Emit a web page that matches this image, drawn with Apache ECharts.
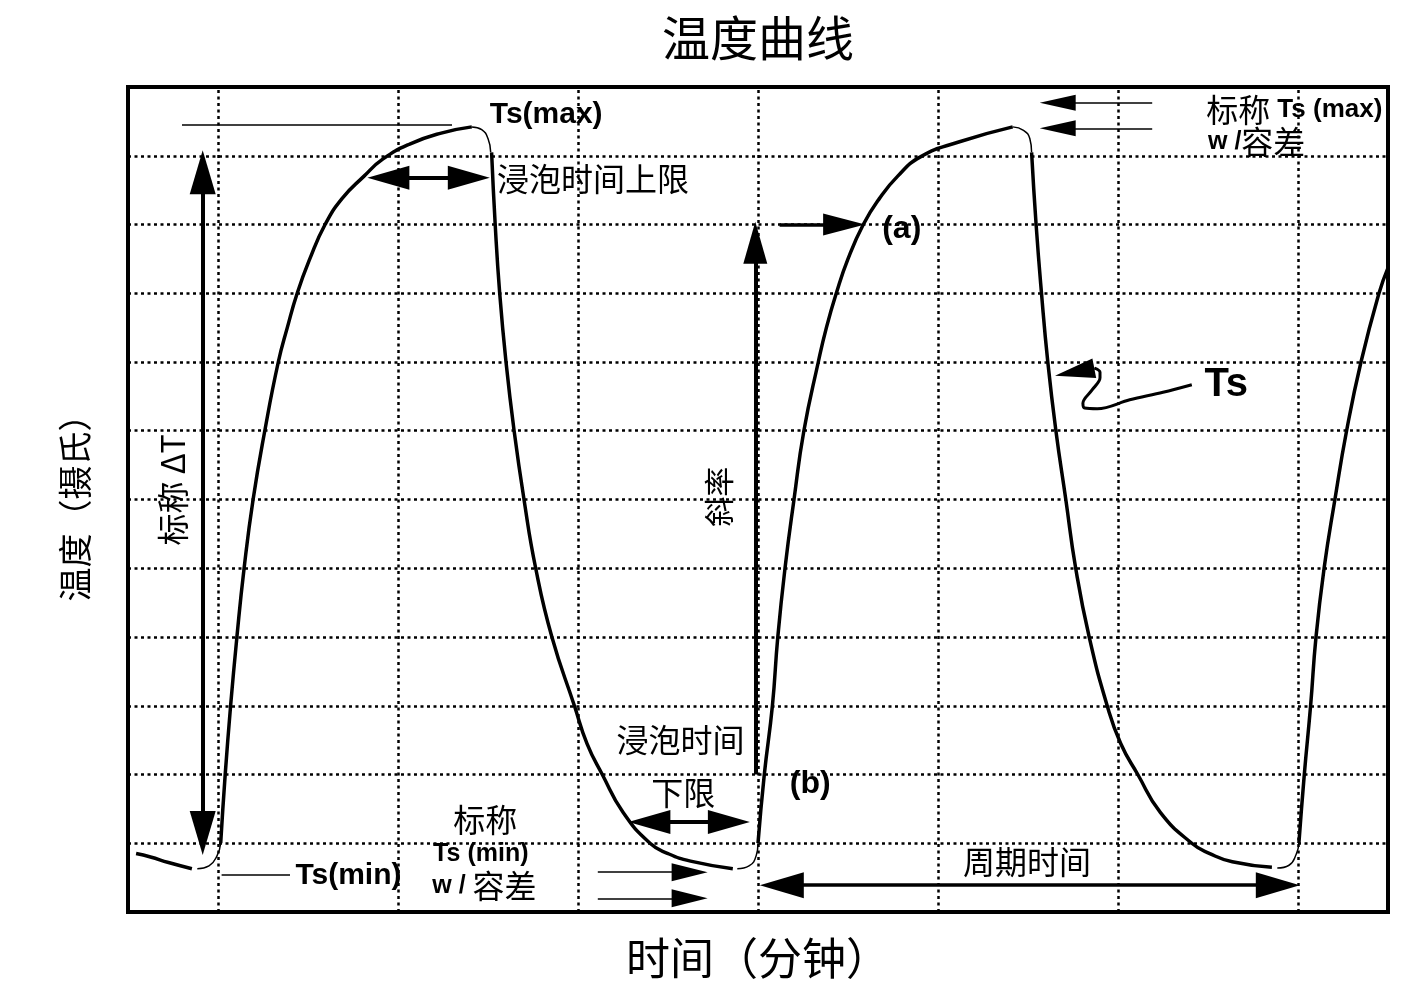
<!DOCTYPE html>
<html><head><meta charset="utf-8">
<script src="https://cdn.jsdelivr.net/npm/echarts@6/dist/echarts.min.js"></script>
<style>html,body{margin:0;padding:0;background:#fff}#c{width:1416px;height:1000px}</style>
</head><body><div id="c"></div>
<script>
// ---------- data (time: half-grid units, temperature: grid units) ----------
const gridTimes = [1, 3, 5, 7, 9, 11, 13];

// thick curve segments
const stubStart = [[0.09,0.85],[0.25,0.8],[0.45,0.72],[0.71,0.63]];
const rise1 = [[1.03,1.0],[1.08,2],[1.14,3],[1.21,4],[1.29,5],[1.39,6],[1.52,7],[1.67,8],[1.77,8.5],[1.88,9],[2.02,9.5],[2.19,10],[2.38,10.38],[2.62,10.7],[2.83,10.95],[3.13,11.17],[3.48,11.33],[3.82,11.42]];
const drop1 = [[4.04,11.05],[4.08,10],[4.13,9],[4.2,8],[4.29,7],[4.4,6],[4.53,5],[4.71,4],[4.96,3],[5.1,2.45],[5.27,2],[5.5,1.45],[5.8,1],[6.0,0.85],[6.25,0.74],[6.72,0.63]];
const rise2 = [[7.0,1.0],[7.07,2],[7.16,3],[7.22,4],[7.3,5],[7.4,6],[7.51,7],[7.67,8],[7.76,8.5],[7.87,9],[8.0,9.5],[8.17,10],[8.35,10.38],[8.55,10.7],[8.8,10.98],[9.23,11.2],[9.83,11.42]];
const drop2 = [[10.04,11.05],[10.09,10],[10.15,9],[10.22,8],[10.31,7],[10.42,6],[10.53,5],[10.68,4],[10.88,3],[11.03,2.45],[11.22,2],[11.47,1.45],[11.82,1],[12.02,0.85],[12.27,0.73],[12.71,0.65]];
const rise3 = [[13.01,1.0],[13.07,2],[13.14,3],[13.2,4],[13.29,5],[13.41,6],[13.54,7],[13.7,8],[13.9,9],[14,9.37]];

// thin rounded corners
const corner1 = [[0.77,0.63],[0.9,0.67],[0.99,0.82],[1.03,1.0]];
const corner2 = [[3.82,11.42],[3.93,11.38],[4.0,11.25],[4.03,11.05]];
const corner3 = [[6.77,0.63],[6.9,0.67],[6.98,0.82],[7.0,1.0]];
const corner4 = [[9.83,11.42],[9.95,11.37],[10.02,11.25],[10.04,11.05]];
const corner5 = [[12.77,0.64],[12.9,0.68],[12.98,0.84],[13.01,1.0]];

// Ts pointer squiggle
const tsPointer = [[11.82,7.67],[11.5,7.56],[11.13,7.45],[10.77,7.32],[10.63,7.33],[10.61,7.4],[10.71,7.59],[10.8,7.77],[10.8,7.85],[10.74,7.91]];

// reference lines (from, to)
const tsMaxLine = [[0.6,11.45],[3.6,11.45]];
const tsMinLine = [[1.04,0.54],[1.8,0.54]];

// arrows: [from, tip]
const deltaTArrow = [[0.83,0.83],[0.83,11.08]];     // double
const soakUpperArrow = [[2.66,10.68],[4.02,10.68]]; // double
const pointAArrow = [[7.24,10.0],[8.19,10.0]];
const slopeArrow = [[6.97,2.0],[6.97,10.04]];
const soakLowerArrow = [[5.56,1.31],[6.91,1.31]];   // double
const tolMinArrows = [[[5.22,0.58],[6.44,0.58]], [[5.22,0.2],[6.44,0.2]]];
const tolMaxArrows = [[[11.38,11.77],[10.13,11.77]], [[11.38,11.4],[10.13,11.4]]];
const periodArrow = [[7.02,0.39],[13.02,0.39]];     // double
const tsHead = [[10.74,7.91],[10.3,7.8]];

// text annotations: [x, y]
const txtTsMax = [4.02,11.59];
const txtSoakUpper = [4.1,10.66];
const txtA = [8.38,9.93];
const txtB = [7.58,1.86];
const txtSoak = [6.14,2.51];
const txtLower = [6.17,1.73];
const txtNomMin1 = [3.97,1.34];
const txtNomMin2 = [3.92,0.84];
const txtNomMin3 = [3.96,0.38];
const txtTsMin = [1.86,0.53];
const txtNomMax1 = [11.98,11.67];
const txtNomMax2 = [12.0,11.2];
const txtTs = [11.96,7.67];
const txtPeriod = [9.99,0.73];
const txtDeltaT = [0.5,6.14];
const txtSlope = [6.56,6.04];

// ---------- layout ----------
const W = 1416, H = 1000;
const G = {left:128, right:28, top:87, bottom:88};
const XMAX = 14, YMAX = 12;
const PX = (W - G.left - G.right) / XMAX;
const PY = (H - G.top - G.bottom) / YMAX;
const CN = '"Noto Sans CJK SC", "Noto Sans", sans-serif';
const EN = '"Liberation Sans", Arial, sans-serif';

function curve(data, width) {
  return {type:'line', data, smooth:0.5, symbol:'none', silent:true,
    lineStyle:{color:'#000', width}, z:5};
}
function center(tip, other, len) {
  const dx = (tip[0]-other[0])*PX, dy = (tip[1]-other[1])*PY;
  const n = Math.hypot(dx, dy) || 1;
  return [tip[0] - dx/n*len/2/PX, tip[1] - dy/n*len/2/PY];
}
function arrow(pts, head, width, both) {
  const [a, b] = pts;
  const end = center(b, a, head[1]);
  const start = both ? center(a, b, head[1]) : a;
  return [
    {coord:start, symbol: both ? 'triangle' : 'none', symbolSize: head,
     lineStyle:{color:'#000', width, type:'solid'}},
    {coord:end, symbol:'triangle', symbolSize: head}
  ];
}
function plain(pts, width) {
  return [{coord:pts[0], symbol:'none', lineStyle:{color:'#000', width, type:'solid'}},
          {coord:pts[1], symbol:'none'}];
}

const arrowLines = [
  arrow(deltaTArrow, [26,44], 4, true),
  arrow(soakUpperArrow, [24,42], 4, true),
  arrow(pointAArrow, [22,42], 3.5, false),
  arrow(slopeArrow, [24,42], 4, false),
  arrow(soakLowerArrow, [24,42], 4, true),
  arrow(tolMinArrows[0], [18,36], 1.5, false),
  arrow(tolMinArrows[1], [18,36], 1.5, false),
  arrow(tolMaxArrows[0], [16,36], 1.5, false),
  arrow(tolMaxArrows[1], [16,36], 1.5, false),
  arrow(periodArrow, [26,44], 3.5, true),
  arrow(tsHead, [20,40], 2, false),
  plain(tsMaxLine, 1.5),
  plain(tsMinLine, 1.5)
];

function lbl(pos, formatter, opt) {
  return {value: pos, label: Object.assign({show:true, position:[0,0], formatter,
    color:'#000', opacity:1, textBorderWidth:0, align:'center', verticalAlign:'middle',
    fontFamily:CN, fontSize:32}, opt)};
}
const bold = (size) => ({fontFamily:EN, fontWeight:'bold', fontSize:size, color:'#000'});
const cn = (size) => ({fontFamily:CN, fontSize:size, color:'#000'});

const labels = [
  lbl(txtTsMax, 'Ts(max)', Object.assign(bold(30), {align:'left'})),
  lbl(txtSoakUpper, '浸泡时间上限', {align:'left'}),
  lbl(txtA, '(a)', Object.assign(bold(32), {align:'left'})),
  lbl(txtB, '(b)', bold(32)),
  lbl(txtSoak, '浸泡时间', {}),
  lbl(txtLower, '下限', {}),
  lbl(txtNomMin1, '标称', {}),
  lbl(txtNomMin2, 'Ts (min)', bold(25)),
  lbl(txtNomMin3, '{b|w / }{c|容差}', {rich:{b:bold(25), c:cn(32)}}),
  lbl(txtTsMin, 'Ts(min)', Object.assign(bold(30), {align:'left'})),
  lbl(txtNomMax1, '{c|标称} {b|Ts (max)}', {align:'left', rich:{b:bold(26), c:cn(32)}}),
  lbl(txtNomMax2, '{b|w /}{c|容差}', {align:'left', rich:{b:bold(25), c:cn(32)}}),
  lbl(txtTs, 'Ts', Object.assign(bold(40), {align:'left'})),
  lbl(txtPeriod, '周期时间', {}),
  lbl(txtDeltaT, '标称 ΔT', {rotate:90}),
  lbl(txtSlope, '斜率', {rotate:90, fontSize:30})
];

const chart = echarts.init(document.getElementById('c'), null, {renderer:'canvas'});
chart.setOption({
  animation:false,
  backgroundColor:'#fff',
  grid:{left:G.left, right:G.right, top:G.top, bottom:G.bottom, show:true,
        borderColor:'#000', borderWidth:4, backgroundColor:'transparent'},
  graphic:[{type:'text', x:(G.left + W - G.right)/2, y:38,
    style:{text:'温度曲线', font:'48px ' + CN, fill:'#000', align:'center', verticalAlign:'middle',
           textAlign:'center', textVerticalAlign:'middle'}}],
  xAxis:{type:'value', min:0, max:XMAX, interval:1,
    name:'时间（分钟）', nameLocation:'middle', nameGap:24,
    nameTextStyle:{fontFamily:CN, fontSize:44, color:'#000'},
    axisLine:{show:false}, axisTick:{show:false}, axisLabel:{show:false}, splitLine:{show:false}},
  yAxis:{type:'value', min:0, max:YMAX, interval:1,
    name:'温度（摄氏）', nameLocation:'middle', nameGap:36,
    nameTextStyle:{fontFamily:CN, fontSize:34, color:'#000'},
    axisLine:{show:false}, axisTick:{show:false}, axisLabel:{show:false},
    splitLine:{show:true, lineStyle:{color:'#000', width:2.5, type:[3,3.5]}}},
  series:[
    {type:'line', data:[], silent:true, symbol:'none',
     markLine:{silent:true, symbol:'none', label:{show:false},
       lineStyle:{color:'#000', width:2.5, type:[3,3.5]},
       data: gridTimes.map(v => ({xAxis:v}))}, z:1},
    curve(stubStart, 3.5), curve(rise1, 3.5), curve(drop1, 3.5),
    curve(rise2, 3.5), curve(drop2, 3.5), curve(rise3, 3.5),
    curve(corner1, 1.5), curve(corner2, 1.5), curve(corner3, 1.5),
    curve(corner4, 1.5), curve(corner5, 1.5),
    {type:'line', data:tsPointer, smooth:0.35, symbol:'none', silent:true,
     lineStyle:{color:'#000', width:3}, z:5},
    {type:'scatter', data:labels, symbolSize:0, silent:true, z:10,
     itemStyle:{opacity:1},
     markLine:{silent:true, label:{show:false}, itemStyle:{color:'#000'},
       lineStyle:{color:'#000', type:'solid'}, emphasis:{disabled:true},
       data: arrowLines}}
  ]
});
</script></body></html>
